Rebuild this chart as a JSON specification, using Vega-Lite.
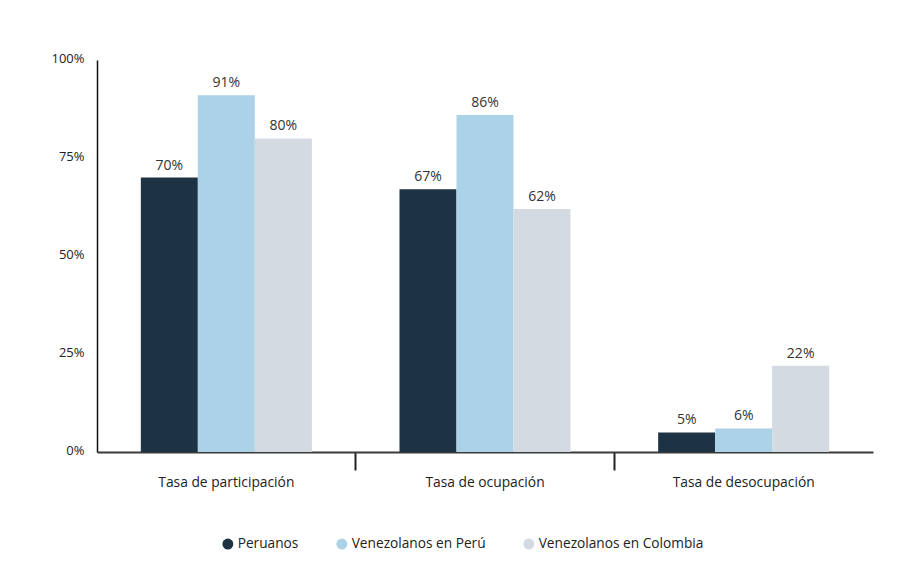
{
  "$schema": "https://vega.github.io/schema/vega-lite/v6.json",
  "width": 776,
  "height": 392,
  "autosize": {"type": "none"},
  "padding": {"left": 97, "top": 60, "right": 43, "bottom": 125},
  "background": "white",
  "config": {"view": {"stroke": null}, "font": "Open Sans"},
  "data": {
    "values": [
      {"indicador": "Tasa de participación", "grupo": "Peruanos", "valor": 0.70},
      {"indicador": "Tasa de participación", "grupo": "Venezolanos en Perú", "valor": 0.91},
      {"indicador": "Tasa de participación", "grupo": "Venezolanos en Colombia", "valor": 0.80},
      {"indicador": "Tasa de ocupación", "grupo": "Peruanos", "valor": 0.67},
      {"indicador": "Tasa de ocupación", "grupo": "Venezolanos en Perú", "valor": 0.86},
      {"indicador": "Tasa de ocupación", "grupo": "Venezolanos en Colombia", "valor": 0.62},
      {"indicador": "Tasa de desocupación", "grupo": "Peruanos", "valor": 0.05},
      {"indicador": "Tasa de desocupación", "grupo": "Venezolanos en Perú", "valor": 0.06},
      {"indicador": "Tasa de desocupación", "grupo": "Venezolanos en Colombia", "valor": 0.22}
    ]
  },
  "encoding": {
    "x": {
      "field": "indicador",
      "type": "nominal",
      "sort": ["Tasa de participación", "Tasa de ocupación", "Tasa de desocupación"],
      "scale": {"paddingInner": 0, "paddingOuter": 0},
      "axis": {
        "title": null,
        "bandPosition": 0,
        "labelAngle": 0,
        "labelFontSize": 13.8,
        "labelColor": "#222",
        "labelPadding": 5,
        "labelBaseline": "top",
        "tickSize": 18,
        "tickWidth": 2,
        "tickColor": {"condition": {"test": "datum.value === 'Tasa de participación'", "value": "transparent"}, "value": "#222"},
        "domainColor": "#3a3a3a",
        "domainWidth": 2
      }
    },
    "xOffset": {
      "field": "grupo",
      "type": "nominal",
      "sort": ["Peruanos", "Venezolanos en Perú", "Venezolanos en Colombia"],
      "scale": {"paddingInner": 0, "paddingOuter": 0.769}
    },
    "y": {
      "field": "valor",
      "type": "quantitative",
      "scale": {"domain": [0, 1]},
      "axis": {
        "title": null,
        "values": [0, 0.25, 0.5, 0.75, 1],
        "format": ".0%",
        "ticks": false,
        "grid": false,
        "labelFontSize": 13,
        "labelColor": "#222",
        "labelPadding": 13,
        "labelOffset": -2,
        "domainColor": "#111",
        "domainWidth": 1.5
      }
    }
  },
  "layer": [
    {
      "mark": {"type": "bar"},
      "encoding": {
        "color": {
          "field": "grupo",
          "type": "nominal",
          "sort": ["Peruanos", "Venezolanos en Perú", "Venezolanos en Colombia"],
          "scale": {
            "domain": ["Peruanos", "Venezolanos en Perú", "Venezolanos en Colombia"],
            "range": ["#1d3344", "#acd2e7", "#d3dae1"]
          },
          "legend": {
            "orient": "none",
            "legendX": 124,
            "legendY": 477,
            "direction": "horizontal",
            "title": null,
            "symbolType": "circle",
            "symbolSize": 120,
            "symbolStrokeWidth": 0,
            "labelFontSize": 13.7,
            "labelColor": "#222",
            "labelOffset": 3,
            "labelLimit": 300,
            "columnPadding": 36
          }
        }
      }
    },
    {
      "mark": {"type": "text", "dy": -8, "baseline": "alphabetic", "fontSize": 14, "color": "#333"},
      "encoding": {
        "text": {"field": "valor", "type": "quantitative", "format": ".0%"}
      }
    }
  ]
}
